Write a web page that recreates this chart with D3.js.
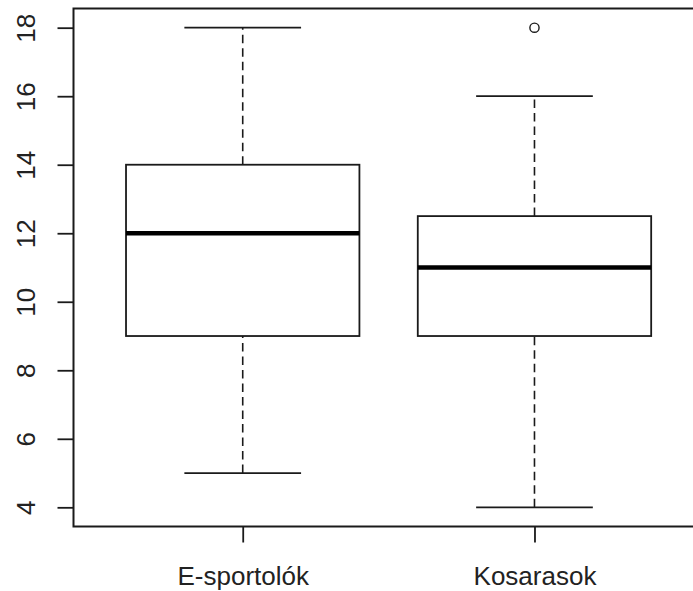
<!DOCTYPE html>
<html>
<head>
<meta charset="utf-8">
<script src="https://cdn.jsdelivr.net/npm/d3@7"></script>
<style>
  html, body { margin: 0; padding: 0; background: #fff; }
  svg { display: block; }
</style>
</head>
<body>
<svg id="chart" width="693" height="591"></svg>
<script>
// Groups and their five-number summaries
const groups = ["E-sportolók", "Kosarasok"];
const whiskerLow = [5, 4];
const quartile1 = [9, 9];
const medians = [12, 11];
const quartile3 = [14, 12.5];
const whiskerHigh = [18, 16];
const outliers = [[], [18]];
const yTicks = [4, 6, 8, 10, 12, 14, 16, 18];

const W = 693, H = 591;
const plotLeft = 73.5, plotTop = 8.5, plotBottom = 526.5, plotRight = 703.7;
const ink = "#1a1a1a";
const font = "'Liberation Sans', Arial, sans-serif";

const svg = d3.select("#chart");
svg.append("rect").attr("width", W).attr("height", H).attr("fill", "#fff");

// R-style axes: 4% padding around the data range
const y = d3.scaleLinear().domain([3.44, 18.56]).range([plotBottom, plotTop]);
const x = d3.scaleLinear().domain([0.42, 2.58]).range([plotLeft, plotRight]);
const pos = i => x(i + 1);

const boxW = 0.8, capW = 0.4;

const g = svg.append("g");

groups.forEach((name, i) => {
  const cx = pos(i);
  // whiskers (dashed)
  [[whiskerLow[i], quartile1[i]], [quartile3[i], whiskerHigh[i]]].forEach(([a, b]) => {
    g.append("line")
      .attr("x1", cx).attr("x2", cx)
      .attr("y1", y(a)).attr("y2", y(b))
      .attr("stroke", ink).attr("stroke-width", 1.6)
      .attr("stroke-dasharray", "8.5,5");
  });
  // whisker caps
  [whiskerLow[i], whiskerHigh[i]].forEach(v => {
    g.append("line")
      .attr("x1", x(i + 1 - capW / 2)).attr("x2", x(i + 1 + capW / 2))
      .attr("y1", y(v)).attr("y2", y(v))
      .attr("stroke", ink).attr("stroke-width", 1.8);
  });
  // box
  g.append("rect")
    .attr("x", x(i + 1 - boxW / 2))
    .attr("y", y(quartile3[i]))
    .attr("width", x(i + 1 + boxW / 2) - x(i + 1 - boxW / 2))
    .attr("height", y(quartile1[i]) - y(quartile3[i]))
    .attr("fill", "#fff").attr("stroke", ink).attr("stroke-width", 1.8);
  // median
  g.append("line")
    .attr("x1", x(i + 1 - boxW / 2)).attr("x2", x(i + 1 + boxW / 2))
    .attr("y1", y(medians[i])).attr("y2", y(medians[i]))
    .attr("stroke", "#000").attr("stroke-width", 4.5);
  // outliers
  outliers[i].forEach(v => {
    g.append("circle")
      .attr("cx", cx).attr("cy", y(v)).attr("r", 4.6)
      .attr("fill", "none").attr("stroke", ink).attr("stroke-width", 1.4);
  });
});

// frame
svg.append("rect")
  .attr("x", plotLeft).attr("y", plotTop)
  .attr("width", plotRight - plotLeft).attr("height", plotBottom - plotTop)
  .attr("fill", "none").attr("stroke", ink).attr("stroke-width", 2);

// y axis
const yAxis = svg.append("g")
  .attr("transform", `translate(${plotLeft},0)`)
  .call(d3.axisLeft(y).tickValues(yTicks).tickSize(16).tickSizeOuter(0).tickFormat(d3.format("d")));
yAxis.select(".domain").remove();
yAxis.selectAll(".tick line").attr("stroke", ink).attr("stroke-width", 1.8);
yAxis.selectAll(".tick text")
  .attr("x", null).attr("dy", null)
  .attr("transform", `translate(${35 - plotLeft},0) rotate(-90)`)
  .attr("text-anchor", "middle")
  .attr("fill", "#222")
  .style("font-family", font).style("font-size", "26px");

// x axis
const xAxis = svg.append("g")
  .attr("transform", `translate(0,${plotBottom})`)
  .call(d3.axisBottom(x).tickValues([1, 2]).tickSize(16).tickSizeOuter(0)
    .tickFormat((d) => groups[d - 1]));
xAxis.select(".domain").remove();
xAxis.selectAll(".tick line").attr("stroke", ink).attr("stroke-width", 1.8);
xAxis.selectAll(".tick text")
  .attr("y", 584.5 - plotBottom).attr("dy", null)
  .attr("text-anchor", "middle")
  .attr("fill", "#222")
  .style("font-family", font).style("font-size", "26px");
</script>
</body>
</html>
